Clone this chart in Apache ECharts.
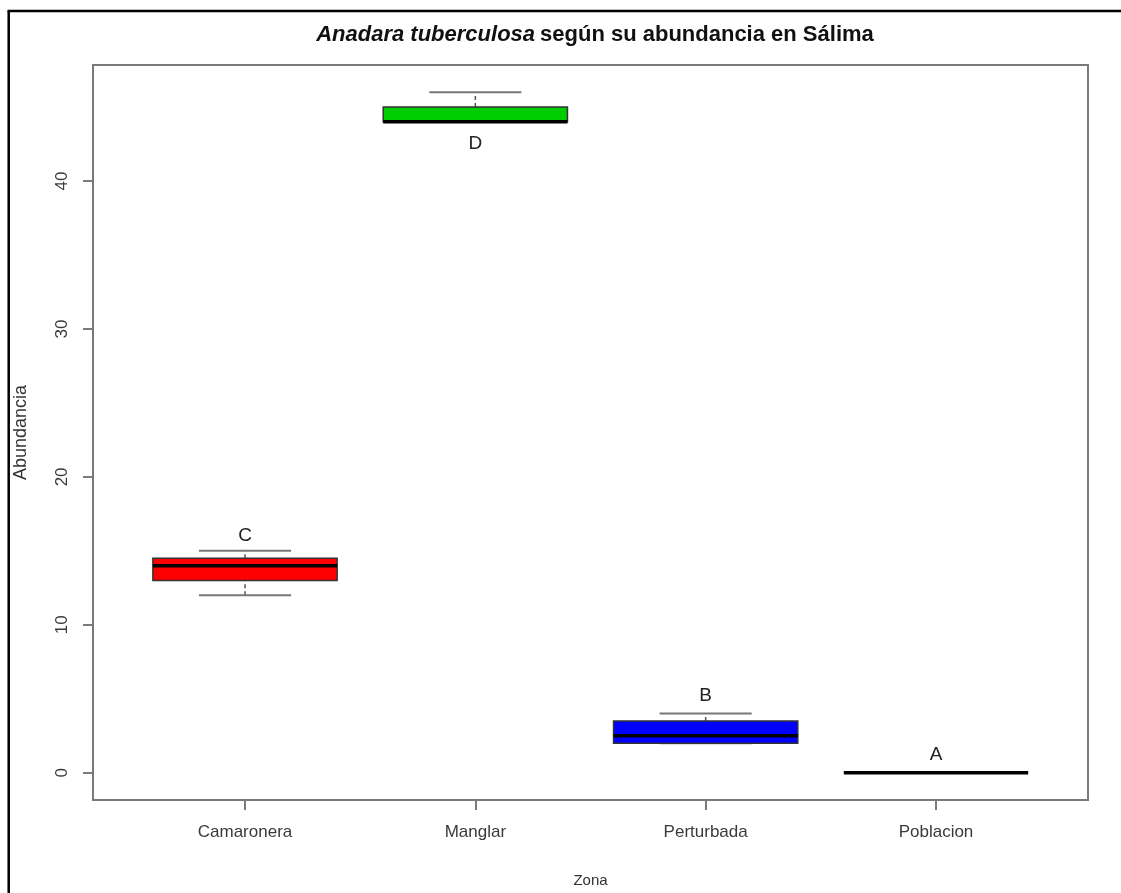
<!DOCTYPE html>
<html>
<head>
<meta charset="utf-8">
<script src="https://cdn.jsdelivr.net/npm/echarts@6/dist/echarts.min.js"></script>
<style>
  html, body { margin: 0; padding: 0; background: #fff; }
  #chart { width: 1121px; height: 893px; }
</style>
</head>
<body>
<div id="chart"></div>
<script>
// Zones and their five-number summaries of abundance
const zonas = ['Camaronera', 'Manglar', 'Perturbada', 'Poblacion'];
const minimo  = [12, 44, 2, 0];
const q1      = [13, 44, 2, 0];
const mediana = [14, 44, 2.5, 0];
const q3      = [14.5, 45, 3.5, 0];
const maximo  = [15, 46, 4, 0];
const colores = ['#ff0000', '#00cd00', '#0000ff', '#000000'];

// Significance group letters and the height at which each is written
const letras = ['C', 'D', 'B', 'A'];
const letraY = [16, 42.5, 5.2, 1.2];

// Axis ticks
const yTicks = [0, 10, 20, 30, 40];
const xTicks = [1, 2, 3, 4];

const boxData = zonas.map((z, i) => [i + 1, minimo[i], q1[i], mediana[i], q3[i], maximo[i]]);
const letterData = zonas.map((z, i) => [i + 1, letraY[i], letras[i]]);

const chart = echarts.init(document.getElementById('chart'));

const grey = '#7a7a7a';

chart.setOption({
  animation: false,
  backgroundColor: '#ffffff',
  title: {
    text: '{it|Anadara tuberculosa} {b|según su abundancia en Sálima}',
    left: 590, top: 19, textAlign: 'center',
    textStyle: {
      rich: {
        it: { fontFamily: 'Liberation Sans', fontSize: 22, fontWeight: 'bold', fontStyle: 'italic', color: '#111' },
        b: { fontFamily: 'Liberation Sans', fontSize: 22, fontWeight: 'bold', color: '#111' }
      }
    }
  },
  grid: {
    left: 93, top: 65, right: 33, bottom: 93,
    show: true, borderColor: grey, borderWidth: 2, backgroundColor: 'transparent'
  },
  xAxis: {
    type: 'value', min: 0.34, max: 4.66,
    name: 'Zona', nameLocation: 'middle', nameGap: 73,
    nameTextStyle: { fontFamily: 'Liberation Sans', fontSize: 15, color: '#333' },
    axisLine: { show: true, onZero: false, lineStyle: { color: grey, width: 2 } },
    axisTick: { show: true, length: 10, customValues: xTicks, lineStyle: { color: grey, width: 2 } },
    axisLabel: {
      customValues: xTicks, margin: 24,
      fontFamily: 'Liberation Sans', fontSize: 17, color: '#3a3a3a',
      formatter: v => zonas[Math.round(v) - 1] || ''
    },
    splitLine: { show: false }
  },
  yAxis: {
    type: 'value', min: -1.84, max: 47.84,
    name: 'Abundancia', nameLocation: 'middle', nameGap: 63,
    nameTextStyle: { fontFamily: 'Liberation Sans', fontSize: 18, color: '#333' },
    axisLine: { show: true, onZero: false, lineStyle: { color: grey, width: 2 } },
    axisTick: { show: true, length: 10, customValues: yTicks, lineStyle: { color: grey, width: 2 } },
    axisLabel: {
      customValues: yTicks, rotate: 90, margin: 22,
      fontFamily: 'Liberation Sans', fontSize: 17, color: '#3a3a3a'
    },
    splitLine: { show: false }
  },
  graphic: [
    // outer frame, left and top edges
    { type: 'line', shape: { x1: 8.7, y1: 11, x2: 8.7, y2: 893 }, style: { stroke: '#000', lineWidth: 2.5 }, z: 10 },
    { type: 'line', shape: { x1: 7.5, y1: 11, x2: 1121, y2: 11 }, style: { stroke: '#000', lineWidth: 2.5 }, z: 10 }
  ],
  series: [
    {
      type: 'custom',
      data: boxData,
      encode: { x: 0, y: [1, 2, 3, 4, 5] },
      renderItem: function (params, api) {
        const x = api.value(0);
        const half = api.size([0.8, 0])[0] / 2;
        const capHalf = half / 2;
        const pMin = api.coord([x, api.value(1)]);
        const pQ1 = api.coord([x, api.value(2)]);
        const pMed = api.coord([x, api.value(3)]);
        const pQ3 = api.coord([x, api.value(4)]);
        const pMax = api.coord([x, api.value(5)]);
        const cx = pMed[0];
        const color = colores[params.dataIndex];
        const whisker = { stroke: '#555', lineWidth: 1.5, lineDash: [4, 3] };
        const cap = { stroke: '#777', lineWidth: 2 };
        return {
          type: 'group',
          children: [
            { type: 'line', shape: { x1: cx, y1: pMin[1], x2: cx, y2: pQ1[1] }, style: whisker },
            { type: 'line', shape: { x1: cx, y1: pQ3[1], x2: cx, y2: pMax[1] }, style: whisker },
            { type: 'line', shape: { x1: cx - capHalf, y1: pMin[1], x2: cx + capHalf, y2: pMin[1] }, style: cap },
            { type: 'line', shape: { x1: cx - capHalf, y1: pMax[1], x2: cx + capHalf, y2: pMax[1] }, style: cap },
            { type: 'rect', shape: { x: cx - half, y: pQ3[1], width: half * 2, height: pQ1[1] - pQ3[1] },
              style: { fill: color, stroke: '#333', lineWidth: 1.5 } },
            { type: 'line', shape: { x1: cx - half, y1: pMed[1], x2: cx + half, y2: pMed[1] },
              style: { stroke: '#000', lineWidth: 3.5 } }
          ]
        };
      },
      z: 2
    },
    {
      type: 'custom',
      data: letterData,
      encode: { x: 0, y: 1 },
      renderItem: function (params, api) {
        const p = api.coord([api.value(0), api.value(1)]);
        return {
          type: 'text',
          x: p[0], y: p[1],
          style: {
            text: letras[params.dataIndex],
            align: 'center', verticalAlign: 'middle',
            fontFamily: 'Liberation Sans', fontSize: 19, fill: '#222'
          }
        };
      },
      z: 3
    }
  ]
});
</script>
</body>
</html>
